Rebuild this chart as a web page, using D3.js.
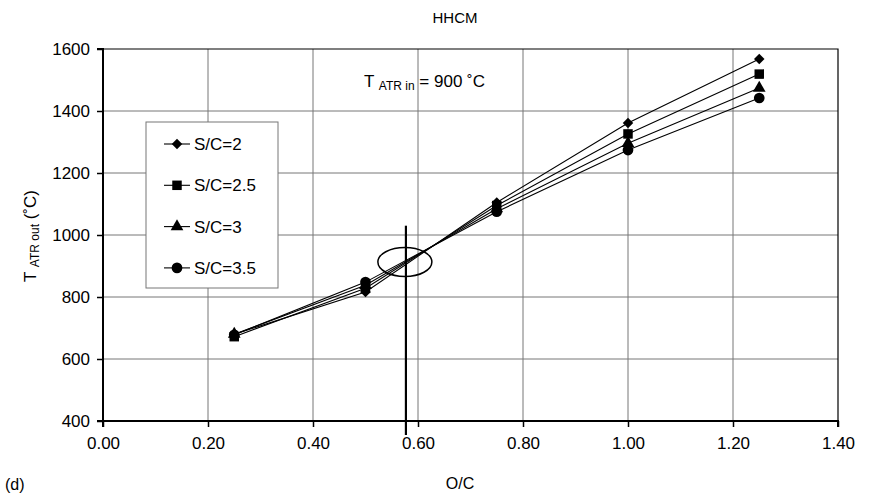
<!DOCTYPE html>
<html><head><meta charset="utf-8">
<script src="https://cdn.jsdelivr.net/npm/d3@7"></script>
<style>body{margin:0;background:#fff}svg{display:block;font-family:"Liberation Sans",Arial,sans-serif}</style>
</head><body><svg id="c" width="872" height="495"></svg>
<script>
const oc = [0.25, 0.5, 0.75, 1.0, 1.25];
const sc2 = [680, 816, 1105, 1361, 1568];
const sc25 = [672, 828, 1095, 1326, 1519];
const sc3 = [680, 838, 1085, 1296, 1474];
const sc35 = [678, 848, 1075, 1274, 1442];
const seriesNames = ["S/C=2", "S/C=2.5", "S/C=3", "S/C=3.5"];
const seriesSymbols = ["diamond", "square", "triangle", "circle"];
const xTicks = [0, 0.2, 0.4, 0.6, 0.8, 1.0, 1.2, 1.4];
const yTicks = [400, 600, 800, 1000, 1200, 1400, 1600];
const markerOC = 0.577, ellipseOC = 0.575, ellipseT = 913;

const svg = d3.select("#c");
const x = d3.scaleLinear().domain([0, 1.4]).range([103, 838]);
const y = d3.scaleLinear().domain([400, 1600]).range([421, 49]);
const FS = 17;

// grid
svg.append("g").selectAll("line").data(yTicks.slice(1, -1)).join("line")
  .attr("x1", x(0)).attr("x2", x(1.4)).attr("y1", d => y(d)).attr("y2", d => y(d))
  .attr("stroke", "#777").attr("stroke-width", 1);
svg.append("g").selectAll("line").data(xTicks.slice(1, -1)).join("line")
  .attr("y1", y(400)).attr("y2", y(1600)).attr("x1", d => x(d)).attr("x2", d => x(d))
  .attr("stroke", "#777").attr("stroke-width", 1);
// frame top/right
svg.append("path").attr("d", `M${x(0)},${y(1600)}H${x(1.4)}V${y(400)}`)
  .attr("fill", "none").attr("stroke", "#000").attr("stroke-width", 1.2);

// axes
const yAxis = svg.append("g").attr("transform", `translate(${x(0)},0)`)
  .call(d3.axisLeft(y).tickValues(yTicks).tickSize(6).tickPadding(7).tickFormat(d3.format("d")));
const xAxis = svg.append("g").attr("transform", `translate(0,${y(400)})`)
  .call(d3.axisBottom(x).tickValues(xTicks).tickSize(6).tickPadding(10).tickFormat(d3.format(".2f")));
[yAxis, xAxis].forEach(g => {
  g.attr("font-size", FS).attr("font-family", "Liberation Sans, Arial, sans-serif");
  g.select(".domain").attr("stroke", "#000").attr("stroke-width", 2);
  g.selectAll(".tick line").attr("stroke", "#000").attr("stroke-width", 1.5);
  g.selectAll("text").attr("fill", "#000");
});
yAxis.select(".domain").attr("d", `M-6,${y(1600)}H0V${y(400)}H-6`);
xAxis.select(".domain").attr("d", `M${x(0)},6V0H${x(1.4)}V6`);

// series
const all = [sc2, sc25, sc3, sc35];
const symTypes = { diamond: d3.symbolDiamond2, square: d3.symbolSquare, triangle: d3.symbolTriangle, circle: d3.symbolCircle };
const symSizes = { diamond: 70, square: 90, triangle: 70, circle: 90 };
const line = d3.line().x((d, i) => x(oc[i])).y(d => y(d));
all.forEach((vals, si) => {
  svg.append("path").attr("d", line(vals)).attr("fill", "none").attr("stroke", "#000").attr("stroke-width", 1.1);
});
all.forEach((vals, si) => {
  const s = seriesSymbols[si];
  svg.append("g").selectAll("path").data(vals).join("path")
    .attr("transform", (d, i) => `translate(${x(oc[i])},${y(d)})`)
    .attr("d", d3.symbol().type(symTypes[s]).size(symSizes[s]))
    .attr("fill", "#000");
});

// annotation: vertical line and ellipse
svg.append("line").attr("x1", x(markerOC)).attr("x2", x(markerOC))
  .attr("y1", y(1030)).attr("y2", y(400) + 14).attr("stroke", "#000").attr("stroke-width", 2.2);
svg.append("ellipse").attr("cx", x(ellipseOC)).attr("cy", y(ellipseT))
  .attr("rx", 27).attr("ry", 14.5).attr("fill", "none").attr("stroke", "#000").attr("stroke-width", 1.5);

// legend
const lg = svg.append("g");
lg.append("rect").attr("x", 146).attr("y", 122).attr("width", 132).attr("height", 166)
  .attr("fill", "#fff").attr("stroke", "#777").attr("stroke-width", 1);
seriesNames.forEach((n, i) => {
  const ly = 144 + i * 41.3;
  const s = seriesSymbols[i];
  lg.append("line").attr("x1", 164).attr("x2", 190).attr("y1", ly).attr("y2", ly).attr("stroke", "#000").attr("stroke-width", 1.1);
  lg.append("path").attr("transform", `translate(177,${ly})`)
    .attr("d", d3.symbol().type(symTypes[s]).size(symSizes[s])).attr("fill", "#000");
  lg.append("text").attr("x", 194).attr("y", ly + 6).attr("font-size", FS).text(n);
});

// texts
svg.append("text").attr("x", 455).attr("y", 23).attr("text-anchor", "middle").attr("font-size", 15).text("HHCM");
const ann = svg.append("text").attr("x", 364).attr("y", 87).attr("font-size", FS);
ann.append("tspan").text("T ");
ann.append("tspan").attr("font-size", 12).attr("dy", 3).text("ATR in");
ann.append("tspan").attr("dy", -3).text(" = 900 ˚C");
const yl = svg.append("text").attr("transform", "translate(36,236) rotate(-90)").attr("text-anchor", "middle").attr("font-size", FS);
yl.append("tspan").text("T ");
yl.append("tspan").attr("font-size", 12).attr("dy", 3).text("ATR out");
yl.append("tspan").attr("dy", -3).text(" (˚C)");
svg.append("text").attr("x", 460).attr("y", 489).attr("text-anchor", "middle").attr("font-size", 16).text("O/C");
svg.append("text").attr("x", 5).attr("y", 490).attr("font-size", 16).text("(d)");
</script></body></html>
